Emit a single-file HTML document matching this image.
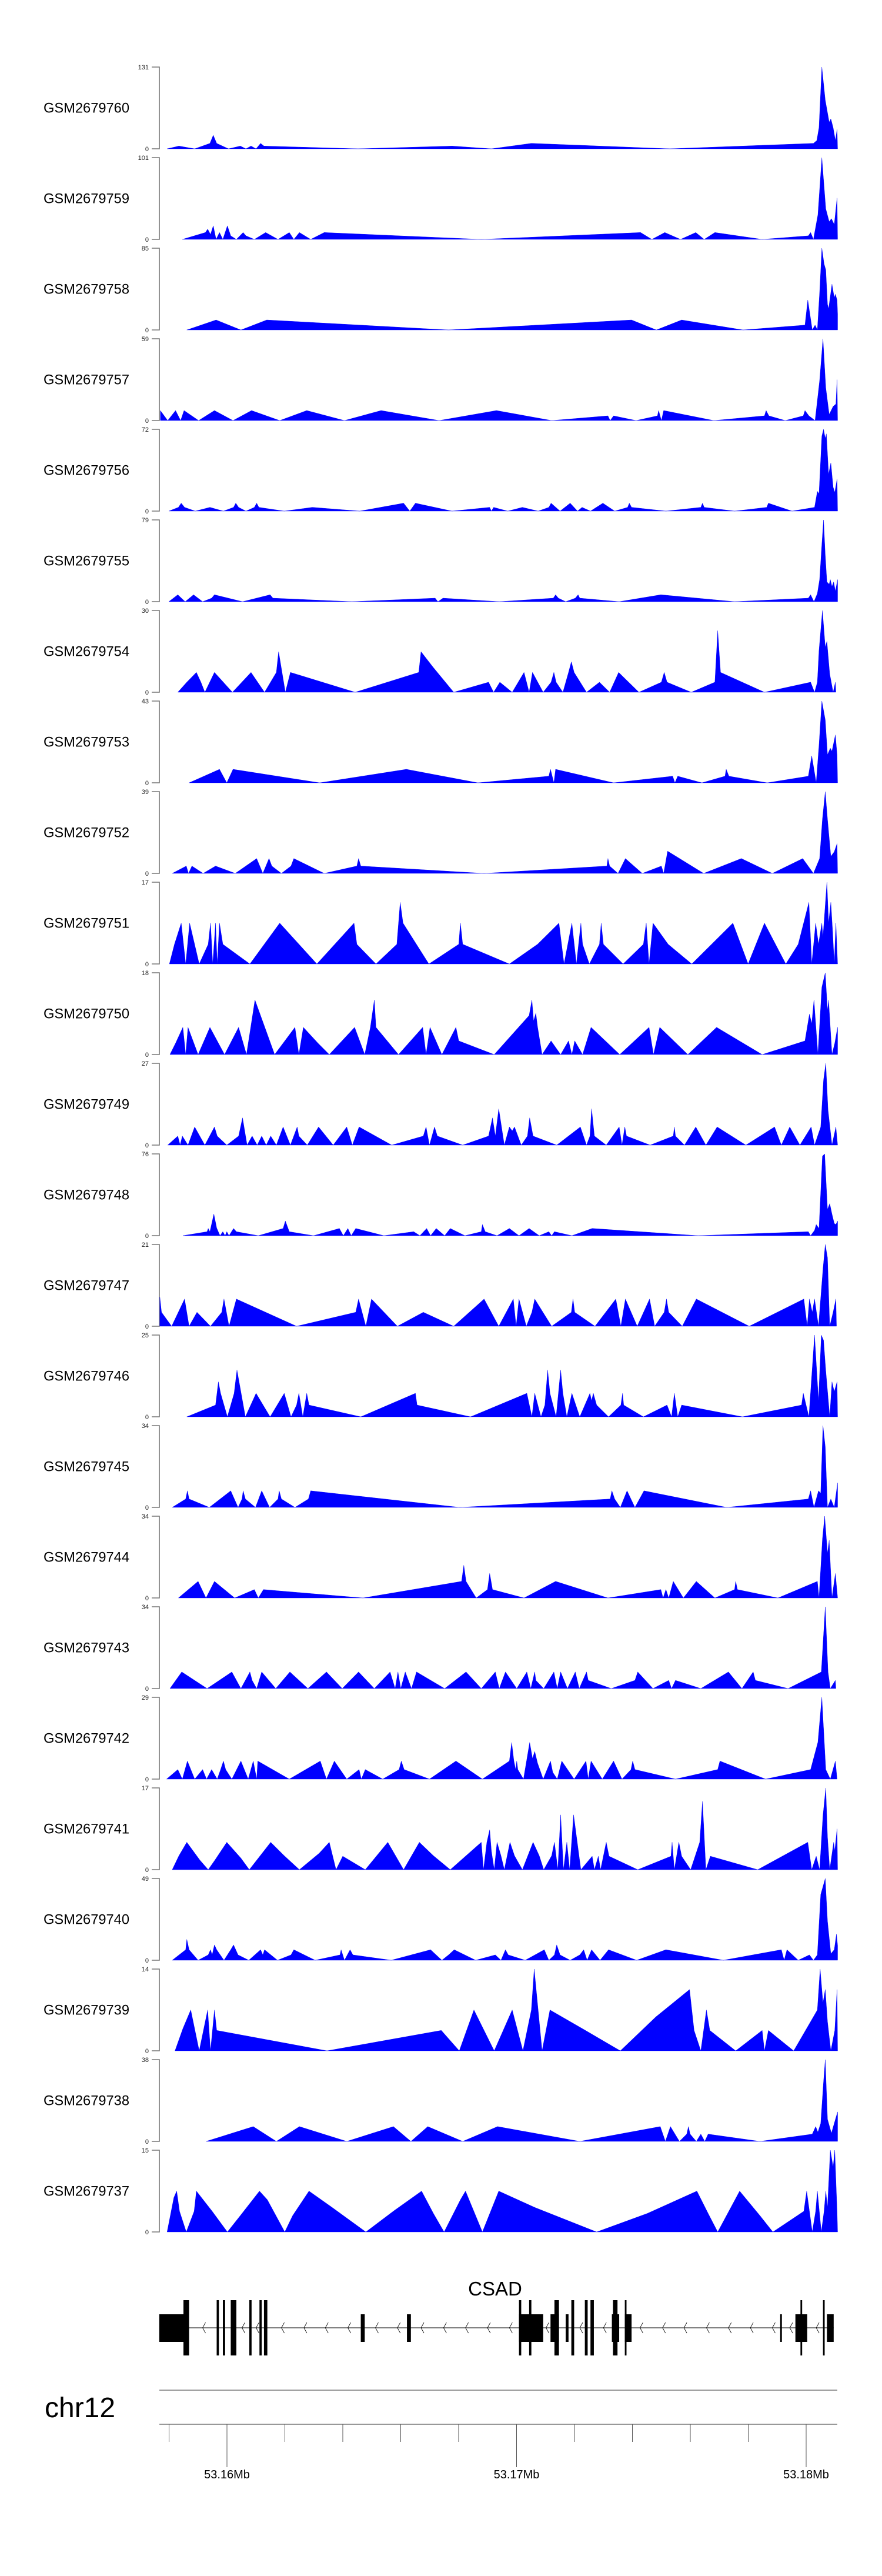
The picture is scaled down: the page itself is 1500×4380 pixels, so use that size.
<!DOCTYPE html>
<html><head><meta charset="utf-8"><title>CSAD coverage tracks</title>
<style>html,body{margin:0;padding:0;background:#fff;}svg{display:block;}</style></head>
<body>
<svg id="chart" width="1500" height="4380" viewBox="0 0 1500 4380" xmlns="http://www.w3.org/2000/svg" font-family="Liberation Sans, sans-serif"></svg>
<script>
// Positions are genomic bins of 19.44 bp starting at chr12:53,152,160
const BIN_ORIGIN = 53152160;
const BIN_BP = 19.44;
const samples = ["GSM2679760","GSM2679759","GSM2679758","GSM2679757","GSM2679756","GSM2679755","GSM2679754","GSM2679753","GSM2679752","GSM2679751","GSM2679750","GSM2679749","GSM2679748","GSM2679747","GSM2679746","GSM2679745","GSM2679744","GSM2679743","GSM2679742","GSM2679741","GSM2679740","GSM2679739","GSM2679738","GSM2679737"];
const ymax = [131,101,85,59,72,79,30,43,39,17,18,27,76,21,25,34,34,34,29,17,49,14,38,15];

const pos760=[297,318,346,373,379,385,406,427,437,446,455,463,469,636,803,873,944,1190,1445,1451,1455,1460,1466,1473,1476,1480,1484,1487,1488];
const val760=[0,4.4,0,8.8,21.8,8.8,0,4.4,0,4.4,0,8.8,4.4,0,4.4,0,8.8,0,8.8,13.3,34,131,78,42.6,48,34,13.3,31,0];
const pos759=[324,365,369,374,379,384,390,396,404,410,420,432,437,452,472,494,514,522,532,552,576,855,1138,1158,1181,1209,1236,1251,1270,1354,1436,1440,1445,1453,1460,1467,1473,1477,1482,1487,1488];
const val759=[0,8.5,12.7,6.1,16.8,0,8.5,0,16.8,4.4,0,8.5,4.4,0,8.5,0,8.5,0,8.5,0,8.5,0,8.5,0,8.5,0,8.5,0,8.5,0,4.4,8.5,0,30.4,101,37.7,21.9,25.6,18.3,51.1,0];
const pos758=[332,384,428,474,797,1122,1166,1211,1320,1430,1435,1443,1448,1452,1456,1460,1464,1467,1470,1472,1478,1482,1484,1487,1488,1488];
const val758=[0,10.4,0,10.4,0,10.4,0,10.4,0,5.1,31.2,0,5.1,0,38.4,85,68.6,62.5,26.8,22,47.6,33.6,37.2,31.2,16.7,0];
const pos757=[285,298,312,321,327,353,381,414,447,497,545,612,677,780,882,980,1080,1084,1090,1130,1168,1170,1175,1179,1268,1358,1361,1366,1395,1427,1430,1437,1448,1456,1462,1467,1473,1480,1485,1487,1488];
const val757=[7.2,0,7.2,0,7.2,0,7.2,0,7.2,0,7.2,0,7.2,0,7.2,0,3.4,0,3.4,0,3.4,7.2,0,7.2,0,3.4,7.2,3.4,0,3.4,7.2,3.4,0,28.7,59,23.6,4.4,10.2,11.9,29.5,0];
const pos756=[300,317,322,328,347,373,397,415,419,424,437,452,456,460,505,555,639,717,728,738,803,870,873,877,902,928,956,975,979,995,1013,1026,1034,1049,1071,1092,1115,1118,1122,1183,1245,1248,1251,1305,1362,1365,1407,1447,1452,1455,1460,1463,1466,1468,1472,1476,1480,1483,1487,1488];
const val756=[0,3.3,7,3.3,0,3.3,0,3.3,7,3.3,0,3.3,7,3.3,0,3.3,0,7,0,7,0,3.3,0,3.3,0,3.3,0,3.3,7,0,7,0,3.3,0,7,0,3.3,7,3.3,0,3.3,7,3.3,0,3.3,7,0,3.3,17.4,15.3,66,72,64,68,32.3,42.5,21.1,16.4,28.2,0];
const pos755=[300,316,329,344,360,376,381,431,480,485,625,773,778,787,887,983,987,992,1005,1022,1027,1030,1100,1174,1305,1436,1440,1446,1452,1456,1460,1463,1466,1469,1473,1475,1478,1481,1484,1488,1488];
const val755=[0,6.7,0,6.7,0,3.4,6.7,0,6.7,3.4,0,3.4,0,3.4,0,3.4,6.7,3.4,0,3.4,6.7,3.4,0,6.7,0,3.4,6.7,0,7.9,21.3,55,79,44.9,19.1,16.8,21.3,14.6,19.1,10.1,21.3,0];
const pos754=[316,332,349,357,364,381,413,446,470,491,495,507,516,631,744,748,769,806,868,877,888,910,931,940,946,965,979,984,988,1000,1010,1015,1020,1042,1065,1083,1099,1135,1175,1180,1185,1228,1270,1275,1280,1358,1440,1447,1452,1455,1461,1466,1469,1474,1480,1484,1485];
const val754=[0,3.7,7.3,3.7,0,7.3,0,7.3,0,7.3,14.9,0,7.3,0,7.3,14.9,9.3,0,3.7,0,3.7,0,7.3,0,7.3,0,3.7,7.3,3.7,0,7.3,11.2,7.3,0,3.7,0,7.3,0,3.7,7.3,3.7,0,3.7,22.6,7.3,0,3.7,0,3.7,15.3,30,16.5,18.7,6.7,0,3.7,0];
const pos753=[336,390,403,414,568,722,849,975,978,984,987,1090,1195,1199,1204,1247,1288,1290,1295,1363,1436,1442,1450,1455,1460,1466,1470,1475,1478,1484,1487,1488];
const val753=[0,7.1,0,7.1,0,7.1,0,3.5,7.1,0,7.1,0,3.5,0,3.5,0,3.5,7.1,3.5,0,3.5,14.2,0,19.7,43,33.1,14.8,18.2,16.6,25.2,14.8,0];
const pos752=[306,331,335,341,361,383,418,456,467,478,483,500,517,522,576,634,637,641,860,1078,1080,1083,1098,1111,1141,1175,1179,1186,1250,1317,1372,1426,1445,1456,1461,1466,1470,1476,1482,1487,1488];
const val752=[0,3.5,0,3.5,0,3.5,0,7.1,0,7.1,3.5,0,3.5,7.1,0,3.5,7.1,3.5,0,3.5,7.1,3.5,0,7.1,0,3.5,0,10.6,0,7.1,0,7.1,0,7.1,25.8,39,25.8,8.1,10.3,14.2,0];
const pos751=[301,310,322,330,337,354,370,374,378,383,386,390,396,444,497,563,629,634,668,705,711,716,762,815,818,822,905,955,993,1002,1016,1024,1032,1035,1047,1065,1068,1072,1107,1143,1148,1153,1160,1187,1229,1302,1329,1358,1396,1418,1437,1442,1449,1454,1460,1462,1469,1472,1476,1479,1482,1485,1488];
const val751=[0,4.1,8.5,0,8.5,0,4.1,8.5,0,8.5,0,8.5,4.1,0,8.5,0,8.5,4.1,0,4.1,12.8,8.5,0,4.1,8.5,4.1,0,4.1,8.5,0,8.5,0,8.5,4.1,0,4.1,8.5,4.1,0,4.1,8.5,0,8.5,4.1,0,8.5,0,8.5,0,4.1,12.8,0,8.5,4.1,8.5,5.6,17,8.5,12.8,7,0,8.5,0];
const pos750=[302,312,325,330,334,352,373,399,424,438,453,488,524,531,539,565,585,630,648,658,665,668,708,751,757,764,785,810,815,878,940,945,948,952,955,963,979,996,1010,1016,1021,1035,1050,1101,1153,1161,1172,1222,1273,1354,1430,1438,1442,1446,1453,1460,1466,1470,1472,1478,1483,1488,1488];
const val750=[0,2.5,6,0,6,0,6,0,6,0,12,0,6,0,6,2.5,0,6,0,6,12,6,0,6,0,6,0,6,3,0,8.6,12,7.4,9.1,6.1,0,3,0,3,0,3,0,6,0,6,0,6,0,6,0,3,8.9,6.8,12,0,14.8,18,9.7,12,0,2.5,6,0];
const pos749=[298,316,320,324,334,346,364,381,386,403,424,431,439,448,457,465,473,481,491,503,516,528,531,546,566,592,616,626,638,696,752,757,763,772,777,822,868,875,880,886,896,905,910,914,926,937,941,947,989,1031,1042,1048,1051,1056,1077,1100,1105,1110,1113,1155,1196,1198,1200,1216,1236,1254,1274,1325,1376,1388,1403,1421,1441,1447,1458,1463,1467,1471,1478,1485,1488];
const val749=[0,3,0,3,0,6,0,6,3,0,3,9,0,3,0,3,0,3,0,6,0,6,3,0,6,0,6,0,6,0,3,6,0,6,3,0,3,9,3,12,0,6,4.7,6,0,3,9,3,0,6,0,3,12,3,0,6,0,6,3,0,3,6,3,0,6,0,6,0,6,0,6,0,6,0,6,21.5,27,11.6,0,6,0];
const pos748=[325,368,370,373,380,385,391,396,400,403,407,415,420,459,503,507,514,557,603,610,618,624,632,682,735,746,758,765,775,790,800,826,855,857,862,883,905,922,940,958,975,980,985,1016,1052,1240,1436,1440,1447,1450,1455,1461,1465,1470,1474,1478,1482,1485,1488,1488];
const val748=[0,3.7,6.7,3.7,20.1,7.1,0,3.7,0,3.7,0,6.7,3.7,0,6.7,13.6,3.7,0,6.7,0,6.7,0,6.7,0,3.7,0,6.7,0,6.7,0,6.7,0,3.7,10.4,3.7,0,6.7,0,6.7,0,3.7,0,3.7,0,6.7,0,3.7,0,5,10.4,6.7,74,76,24.4,29.8,20.1,11.4,10.4,13.6,0];
const pos747=[284,287,305,328,336,350,374,394,398,407,420,527,632,637,650,660,706,752,806,860,886,912,917,922,935,945,950,980,1015,1018,1021,1057,1094,1103,1111,1132,1154,1163,1180,1184,1188,1212,1237,1331,1428,1434,1438,1443,1447,1454,1462,1466,1470,1474,1480,1485,1486];
const val747=[7.5,3.6,0,7,0,3.6,0,3.6,7,0,7,0,3.6,7,0,7,0,3.6,0,7,0,7,0,7,0,3.6,7,0,3.6,7,3.6,0,7,0,7,0,7,0,3.6,7,3.6,0,7,0,7,0,7,3.6,7,0,14.6,21,17.6,0,3.6,7,0];
const pos746=[332,383,388,392,404,416,421,436,455,480,505,517,527,531,538,545,549,641,738,741,836,936,945,950,961,968,973,977,988,996,1000,1007,1016,1030,1048,1051,1054,1060,1081,1103,1106,1108,1143,1185,1193,1198,1204,1211,1319,1424,1427,1437,1447,1454,1459,1463,1467,1474,1478,1482,1487,1488];
const val746=[0,3.6,10.7,7.2,0,7.2,14.3,0,7.2,0,7.2,0,3.6,7.2,0,7.2,3.6,0,7.2,3.6,0,7.2,0,7.2,0,3.6,14.3,7.2,0,14.3,7.2,0,7.2,0,7.2,4.9,7.2,3.6,0,3.6,7.2,3.6,0,3.6,0,7.2,0,3.6,0,3.6,7.2,0,25,4.9,25,23.4,14.1,0,10.7,7.7,10.7,0];
const pos745=[306,330,333,336,372,410,423,430,432,436,454,465,479,494,496,500,524,548,552,817,1084,1087,1092,1102,1114,1128,1144,1291,1436,1440,1446,1454,1458,1462,1466,1470,1476,1482,1488,1488];
const val745=[0,3.5,6.9,3.5,0,6.9,0,3.5,6.9,3.5,0,6.9,0,3.5,6.9,3.5,0,3.5,6.9,0,3.5,6.9,3.5,0,6.9,0,6.9,0,3.5,6.9,0,6.9,5.9,34,25.2,0,3.5,0,10.2,0];
const pos744=[317,352,366,381,417,452,459,468,645,820,824,828,846,866,870,875,931,987,1080,1174,1178,1183,1188,1196,1214,1237,1270,1305,1307,1310,1382,1452,1455,1461,1465,1470,1473,1478,1484,1488];
const val744=[0,6.9,0,6.9,0,3.5,0,3.5,0,6.9,13.6,6.9,0,3.5,10.2,3.5,0,6.9,0,3.5,0,3.5,0,6.9,0,6.9,0,3.5,6.9,3.5,0,6.9,0,24.4,34,18.6,24,0,10.2,0];
const pos743=[302,323,368,412,428,444,448,456,465,490,515,547,580,608,637,665,693,702,707,712,720,731,740,790,828,855,880,887,898,918,936,943,950,952,966,984,990,996,1008,1022,1029,1042,1045,1086,1128,1133,1160,1188,1193,1200,1245,1294,1318,1338,1342,1400,1459,1466,1471,1475,1484,1485];
const val743=[0,6.9,0,6.9,0,6.9,3.4,0,6.9,0,6.9,0,6.9,0,6.9,0,6.9,0,6.9,0,6.9,0,6.9,0,6.9,0,6.9,0,6.9,0,6.9,0,6.9,3.4,0,6.9,0,6.9,0,6.9,0,6.9,3.4,0,3.4,6.9,0,3.4,0,3.4,0,6.9,0,6.9,3.4,0,6.9,34,6.9,0,3.4,0];
const pos742=[296,316,324,333,346,360,367,376,386,392,397,401,412,428,441,450,456,458,514,569,580,594,616,638,642,649,680,709,713,718,763,810,857,905,909,913,916,918,920,930,941,946,950,955,965,978,982,990,998,1020,1041,1045,1050,1070,1090,1105,1121,1124,1128,1200,1275,1279,1360,1440,1453,1460,1467,1475,1484,1487];
const val742=[0,3.4,0,6.4,0,3.4,0,3.4,0,3.4,6.4,3.4,0,6.4,0,6.4,0,6.4,0,6.4,0,6.4,0,3.4,0,3.4,0,3.4,6.4,3.4,0,6.4,0,6.4,13,6.4,3.4,6.4,3.4,0,13,7.3,9.8,5.7,0,6.4,2.4,0,6.4,0,6.4,0,6.4,0,6.4,0,3.4,6.4,3.4,0,3.4,6.4,0,3.4,13.1,29,3.4,0,6.4,0];
const pos741=[306,318,332,355,370,382,403,428,443,481,505,532,567,585,597,609,649,689,717,745,770,800,855,859,865,870,873,878,883,890,896,906,914,928,947,958,966,980,985,991,996,1001,1007,1012,1019,1032,1052,1056,1063,1067,1077,1082,1133,1192,1194,1198,1206,1211,1227,1243,1248,1254,1262,1346,1435,1442,1450,1456,1462,1467,1470,1474,1481,1483,1487,1488];
const val741=[0,2.9,5.7,2,0,2,5.7,2.4,0,5.7,2.9,0,3.4,5.7,0,2.8,0,5.7,0,5.7,2.9,0,5.7,0,5.7,8.3,3.9,0,5.7,2.9,0,5.7,2.9,0,5.7,2.9,0,2.9,5.7,0,11.4,0,5.7,0,11.4,0,2.8,0,2.8,0,5.7,2.8,0,2.8,5.7,0,5.7,2.8,0,5.7,14.2,0,2.8,0,5.7,0,2.8,0,11.2,17,6.8,0,5.7,3.9,8.5,0];
const pos740=[306,330,332,336,352,370,374,377,381,385,398,410,415,423,442,463,467,470,493,517,522,560,604,606,612,622,627,695,765,785,797,807,845,880,890,898,903,933,967,975,985,989,995,1013,1030,1037,1043,1051,1066,1081,1131,1183,1285,1388,1393,1398,1418,1438,1445,1452,1458,1466,1470,1476,1482,1486,1488,1488];
const val740=[0,6.3,12.5,6.3,0,3.2,6.3,3.2,9.2,6.3,0,6.3,9.2,3.2,0,6.3,3.2,6.3,0,3.2,6.3,0,3.2,6.3,0,6.3,3.2,0,6.3,0,3.2,6.3,0,3.2,0,6.3,3.2,0,6.3,0,3.2,9.2,3.2,0,3.2,6.3,0,6.3,0,6.3,0,6.3,0,6.3,0,6.3,0,3.2,0,3.2,39.4,49,23.4,3.9,6.3,15.7,8.8,0];
const pos739=[311,325,339,354,369,374,381,385,581,784,816,842,878,910,929,944,949,963,977,1040,1102,1165,1225,1233,1245,1255,1261,1307,1354,1358,1365,1410,1440,1452,1457,1462,1466,1470,1476,1483,1487,1488];
const val739=[0,3.8,7,0,7,0,7,3.5,0,3.5,0,7,0,7,0,7,14,0,7,3.5,0,5.8,10.5,3.5,0,7,3.5,0,3.5,0,3.5,0,5,7,14,8.2,10.5,5,0,3.5,10.5,0];
const pos738=[366,450,491,532,616,699,730,760,822,884,1030,1173,1182,1191,1207,1220,1223,1226,1237,1245,1252,1258,1350,1443,1449,1453,1458,1463,1466,1470,1477,1482,1488,1488];
const val738=[0,6.9,0,6.9,0,6.9,0,6.9,0,6.9,0,6.9,0,6.9,0,3.4,6.9,3.4,0,3.4,0,3.4,0,3.4,6.9,4.3,8.4,27.7,38,10.3,3.8,8.4,13.7,0];
const pos737=[297,309,314,319,331,345,349,377,404,427,461,475,506,520,549,590,650,700,749,770,789,818,827,857,886,950,1060,1150,1238,1258,1275,1314,1350,1373,1428,1433,1443,1449,1452,1459,1464,1467,1470,1475,1480,1483,1487,1488];
const val737=[0,6.3,7.5,3.8,0,3.8,7.5,3.8,0,3,7.5,5.9,0,3,7.5,4.5,0,3.9,7.5,3.4,0,5.9,7.5,0,7.5,4.5,0,3.4,7.5,3.4,0,7.5,3,0,3.8,7.5,0,3.8,7.5,0,3.8,7.5,4.5,15,11.9,15,3.8,0];

const positions=[pos760,pos759,pos758,pos757,pos756,pos755,pos754,pos753,pos752,pos751,pos750,pos749,pos748,pos747,pos746,pos745,pos744,pos743,pos742,pos741,pos740,pos739,pos738,pos737];
const values=[val760,val759,val758,val757,val756,val755,val754,val753,val752,val751,val750,val749,val748,val747,val746,val745,val744,val743,val742,val741,val740,val739,val738,val737];

// gene model (bins)
const thickExons=[[283,330],[641,648],[723,730],[922,965],[978,993],[1005,1010],[1087,1100],[1110,1122],[1386,1389],[1413,1434],[1469,1481]];
const tallExons=[[326,336],[385,389],[396,400],[410,420],[443,447],[461,465],[469,475],[922,926],[940,944],[985,993],[1015,1020],[1039,1044],[1049,1055],[1089,1097],[1110,1113],[1422,1425],[1462,1465]];
const strandArrows=[360,430,455,500,540,578,618,667,706,748,788,827,866,905,970,1030,1072,1137,1177,1215,1255,1294,1333,1372,1403,1450];
const axisTicksBp=[53158000,53160000,53162000,53164000,53166000,53168000,53170000,53172000,53174000,53176000,53178000,53180000];
const axisLabels=["53.16Mb","53.17Mb","53.18Mb"];
const axisLabelBp=[53160000,53170000,53180000];

const NS="http://www.w3.org/2000/svg";
const svg=document.getElementById('chart');
function el(tag,attrs,parent){const e=document.createElementNS(NS,tag);for(const k in attrs)e.setAttribute(k,attrs[k]);(parent||svg).appendChild(e);return e;}
function binToBp(b){return BIN_ORIGIN+b*BIN_BP;}
function xScale(bp){return 386+(bp-53160000)*0.04925;}
const TRACK_TOP=114, TRACK_STEP=154, TRACK_H=139;

for(let i=0;i<samples.length;i++){
  const top=TRACK_TOP+i*TRACK_STEP, base=top+TRACK_H;
  const g=el('g',{});
  
  
  const lab=el('text',{x:74,y:top+TRACK_H/2+8,'font-size':24,fill:'#000',textLength:146,lengthAdjust:'spacingAndGlyphs'},g);
  lab.textContent=samples[i];
  
  
  const ax=el('path',{d:`M258 ${top}H271V${base}H258`,stroke:'#777',fill:'none','stroke-width':1.6},g);
  
  
  const tmax=el('text',{x:253,y:top+4,'font-size':11,'text-anchor':'end',fill:'#222'},g);
  tmax.textContent=ymax[i];
  
  
  const t0=el('text',{x:253,y:base+4,'font-size':11,'text-anchor':'end',fill:'#222'},g);
  t0.textContent='0';
  
  
  const p=positions[i], v=values[i], n=Math.min(p.length,v.length);
  let pts=[];
  pts.push(xScale(binToBp(p[0])).toFixed(1)+','+base);
  for(let j=0;j<n;j++){
    const x=xScale(binToBp(p[j])), y=base-Math.min(v[j],ymax[i])/ymax[i]*TRACK_H;
    pts.push(x.toFixed(1)+','+y.toFixed(1));
  }
  pts.push(xScale(binToBp(p[n-1])).toFixed(1)+','+base);
  const area=el('polygon',{points:pts.join(' '),fill:'#0000ff',stroke:'#0000ff','stroke-width':0.4},g);
  
  
}

// gene model
const gg=el('g',{});


const gname=el('text',{x:842,y:3903,'font-size':33,'text-anchor':'middle',fill:'#000'},gg);
gname.textContent='CSAD';


const gl=el('line',{x1:xScale(binToBp(336)),x2:xScale(binToBp(1481)),y1:3958,y2:3958,stroke:'#000','stroke-width':1},gg);


strandArrows.forEach(b=>{
  const x=xScale(binToBp(b));
  const a=el('path',{d:`M${x+5} ${3949}L${x} ${3958}L${x+5} ${3967}`,stroke:'#000',fill:'none','stroke-width':0.8},gg);
  
  
});
thickExons.forEach(e=>{
  const x1=xScale(binToBp(e[0])),x2=xScale(binToBp(e[1]));
  const r=el('rect',{x:x1,y:3935,width:Math.max(2,x2-x1),height:47,fill:'#000'},gg);
  
  
});
tallExons.forEach(e=>{
  const x1=xScale(binToBp(e[0])),x2=xScale(binToBp(e[1]));
  const r=el('rect',{x:x1,y:3911,width:Math.max(2,x2-x1),height:94,fill:'#000'},gg);
  
  
});

// genome axis
const ga=el('g',{});


const chr=el('text',{x:76,y:4110,'font-size':48,fill:'#000'},ga);
chr.textContent='chr12';


const l1=el('line',{x1:271,x2:1424,y1:4064,y2:4064,stroke:'#999','stroke-width':2},ga);


const l2=el('line',{x1:271,x2:1424,y1:4122,y2:4122,stroke:'#999','stroke-width':2},ga);


axisTicksBp.forEach(bp=>{
  const x=xScale(bp);
  const major=axisLabelBp.indexOf(bp)>=0;
  const t=el('line',{x1:x,x2:x,y1:4122,y2:major?4195:4152,stroke:'#555','stroke-width':1},ga);
  
  
});
axisLabelBp.forEach((bp,k)=>{
  const t=el('text',{x:xScale(bp),y:4214,'font-size':20,'text-anchor':'middle',fill:'#000'},ga);
  t.textContent=axisLabels[k];
  
  
});
</script>
</body></html>
